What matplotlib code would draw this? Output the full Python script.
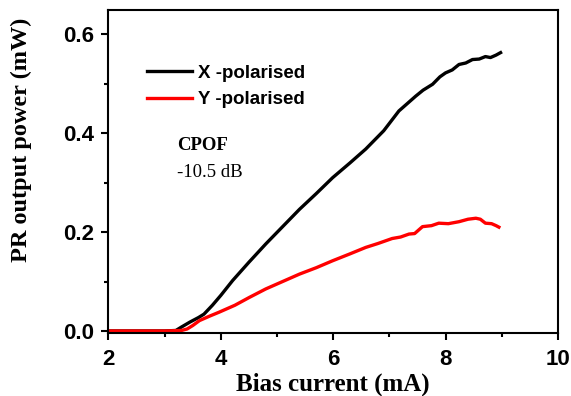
import matplotlib
matplotlib.use("Agg")
import matplotlib.pyplot as plt
from matplotlib.ticker import MultipleLocator, FormatStrFormatter

# Bias current (mA) and photoreceiver output power (mW)
x_current = [2.0, 2.5, 3.0, 3.2, 3.3, 3.45, 3.6, 3.7, 3.85, 4.0, 4.21, 4.5, 4.8, 5.1,
             5.4, 5.7, 5.99, 6.3, 6.58, 6.9, 7.17, 7.3, 7.47, 7.6, 7.77, 7.9, 8.0,
             8.12, 8.24, 8.36, 8.48, 8.6, 8.71, 8.8, 8.9, 8.98]
x_power = [0.0, 0.0, 0.0, 0.001, 0.008, 0.018, 0.027, 0.034, 0.052, 0.072, 0.102,
           0.139, 0.176, 0.211, 0.246, 0.278, 0.310, 0.340, 0.368, 0.405, 0.445,
           0.458, 0.475, 0.487, 0.499, 0.514, 0.522, 0.528, 0.539, 0.542, 0.549,
           0.550, 0.555, 0.553, 0.558, 0.563]

y_current = [2.0, 2.5, 3.0, 3.3, 3.4, 3.5, 3.62, 3.8, 3.97, 4.25, 4.51, 4.8, 5.1,
             5.4, 5.7, 5.99, 6.3, 6.58, 6.8, 7.05, 7.2, 7.35, 7.45, 7.59, 7.75,
             7.88, 8.05, 8.24, 8.4, 8.54, 8.62, 8.71, 8.82, 8.9, 8.95]
y_power = [0.0, 0.0, 0.0, 0.001, 0.004, 0.011, 0.021, 0.030, 0.038, 0.052, 0.068,
           0.085, 0.100, 0.115, 0.128, 0.142, 0.156, 0.169, 0.177, 0.187, 0.190,
           0.196, 0.197, 0.211, 0.213, 0.218, 0.217, 0.221, 0.226, 0.228, 0.226,
           0.218, 0.217, 0.213, 0.210]

fig = plt.figure(figsize=(5.71, 3.96), dpi=100)
ax = fig.add_axes([0.190, 0.158, 0.787, 0.816])

ax.plot(x_current, x_power, color="black", lw=2.4, label="X -polarised")
ax.plot(y_current, y_power, color="#ff0000", lw=2.4, label="Y -polarised")

ax.set_xlim(2, 10)
ax.set_ylim(-0.005, 0.6486)
ax.xaxis.set_major_locator(MultipleLocator(2))
ax.xaxis.set_minor_locator(MultipleLocator(1))
ax.yaxis.set_major_locator(MultipleLocator(0.2))
ax.yaxis.set_minor_locator(MultipleLocator(0.1))
ax.yaxis.set_major_formatter(FormatStrFormatter("%.1f"))

for s in ax.spines.values():
    s.set_linewidth(1.5)
ax.tick_params(which="both", direction="out", top=False, right=False, width=1.5)
ax.tick_params(which="major", length=5)
ax.tick_params(which="minor", length=3)
ax.tick_params(axis="y", which="major", pad=5)
ax.tick_params(axis="x", which="major", pad=6)
for lbl in ax.get_xticklabels() + ax.get_yticklabels():
    lbl.set_fontfamily("Liberation Sans")
    lbl.set_fontweight("bold")
    lbl.set_fontsize(16)

ax.set_xlabel("Bias current (mA)", family="Liberation Serif", weight="bold",
              fontsize=18, labelpad=2)
ax.set_ylabel("PR output power (mW)", family="Liberation Serif", weight="bold",
              fontsize=17.5)
ax.yaxis.set_label_coords(-0.170, 0.60)

leg = ax.legend(loc="upper left", bbox_to_anchor=(0.0857, 0.832), frameon=False,
                borderpad=0, borderaxespad=0,
                handlelength=2.4, handletextpad=0.32, labelspacing=0.5,
                prop={"family": "Liberation Sans", "weight": "bold", "size": 13.5})

ax.text(0.152, 0.582, "CPOF", transform=ax.transAxes, family="Liberation Serif",
        weight="bold", fontsize=13.5, va="center")
ax.text(0.152, 0.498, "-10.5 dB", transform=ax.transAxes, family="Liberation Serif",
        fontsize=13.5, va="center")

fig.savefig("out.png", dpi=100)
